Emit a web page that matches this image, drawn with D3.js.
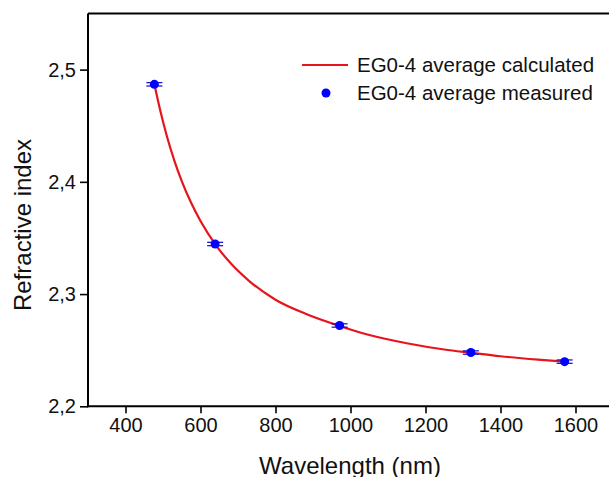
<!DOCTYPE html>
<html><head><meta charset="utf-8">
<script src="https://cdn.jsdelivr.net/npm/d3@7"></script>
<style>body{margin:0;background:#fff;overflow:hidden}svg{display:block;font-family:"Liberation Sans",Arial,sans-serif}</style>
</head><body><svg id="c" width="609" height="477"></svg>
<script>
// measured points
const wavelengths = [477, 639, 971, 1321, 1571];
const measured = [2.4869, 2.3446, 2.2720, 2.2479, 2.2398];
const errors = [0.0015, 0.0015, 0.0015, 0.0015, 0.0015];
// calculated curve
const calcWavelengths = [477, 493, 510, 530, 550, 575, 600, 639, 680, 730, 800, 880, 971, 1050, 1150, 1250, 1321, 1400, 1500, 1571];
const calcValues = [2.4869, 2.4631, 2.4411, 2.4192, 2.4007, 2.3813, 2.3651, 2.3446, 2.3276, 2.3116, 2.2950, 2.2825, 2.2716, 2.2635, 2.2562, 2.2506, 2.2477, 2.2446, 2.2416, 2.2398];
const xTicks = [400, 600, 800, 1000, 1200, 1400, 1600];
const xMinor = [300, 500, 700, 900, 1100, 1300, 1500, 1700];
const yTicks = [2.2, 2.3, 2.4, 2.5];
const yMinor = [2.25, 2.35, 2.45, 2.55];
const legendLabels = ["EG0-4 average calculated", "EG0-4 average measured"];

const svg = d3.select("#c");
const x = d3.scaleLinear().domain([300, 1700]).range([88, 613]);
const y = d3.scaleLinear().domain([2.2, 2.55]).range([406.3, 13.5]);
const loc = d3.formatLocale({decimal: ",", thousands: "", grouping: [3], currency: ["", ""]});
const fy = loc.format(".1f");

// top / right border
svg.append("line").attr("x1", x(300)).attr("x2", x(1700)).attr("y1", y(2.55)).attr("y2", y(2.55))
  .attr("stroke", "#000").attr("stroke-width", 2);
svg.append("line").attr("x1", x(1700)).attr("x2", x(1700)).attr("y1", y(2.55)).attr("y2", y(2.2))
  .attr("stroke", "#000").attr("stroke-width", 2);

// x axis
const gx = svg.append("g").attr("transform", `translate(0,${y(2.2)})`);
gx.call(d3.axisBottom(x).tickValues(xMinor).tickSize(4).tickFormat(""));
gx.call(d3.axisBottom(x).tickValues(xTicks).tickSize(7).tickPadding(5).tickFormat(d3.format("d")));
gx.selectAll(".domain").attr("stroke-width", 2).attr("d", `M${x(300)-1},0H${x(1700)}`);
gx.selectAll("line").attr("stroke-width", 1.6);
gx.selectAll("text").attr("font-size", 20).attr("fill", "#111").attr("font-family", "Liberation Sans, Arial, sans-serif");

// y axis
const gy = svg.append("g").attr("transform", `translate(${x(300)},0)`);
gy.call(d3.axisLeft(y).tickValues(yMinor).tickSize(4).tickFormat(""));
gy.call(d3.axisLeft(y).tickValues(yTicks).tickSize(8).tickPadding(4).tickFormat(fy));
gy.selectAll(".domain").attr("stroke-width", 2).attr("d", `M0,${y(2.55)}V${y(2.2)+1}`);
gy.selectAll("line").attr("stroke-width", 1.6);
gy.selectAll("text").attr("font-size", 20).attr("fill", "#111").attr("font-family", "Liberation Sans, Arial, sans-serif");

// axis titles
svg.append("text").attr("x", 350).attr("y", 474).attr("text-anchor", "middle")
  .attr("font-size", 24).attr("fill", "#111").text("Wavelength (nm)");
svg.append("text").attr("transform", "translate(31,225) rotate(-90)").attr("text-anchor", "middle")
  .attr("font-size", 24).attr("fill", "#111").text("Refractive index");

// curve
const calc = calcWavelengths.map((w, i) => [w, calcValues[i]]);
svg.append("path").datum(calc)
  .attr("d", d3.line().x(d => x(d[0])).y(d => y(d[1])).curve(d3.curveMonotoneX))
  .attr("fill", "none").attr("stroke", "#e8141b").attr("stroke-width", 2.2);

// error bars + points
const pts = wavelengths.map((w, i) => ({w, n: measured[i], e: errors[i]}));
const eb = svg.append("g").attr("stroke", "#1a1acc").attr("stroke-width", 1.3);
pts.forEach(p => {
  eb.append("line").attr("x1", x(p.w)).attr("x2", x(p.w)).attr("y1", y(p.n + p.e)).attr("y2", y(p.n - p.e));
  [p.n + p.e, p.n - p.e].forEach(v => eb.append("line").attr("x1", x(p.w) - 8).attr("x2", x(p.w) + 8).attr("y1", y(v)).attr("y2", y(v)));
});
svg.append("g").selectAll("circle").data(pts).join("circle")
  .attr("cx", d => x(d.w)).attr("cy", d => y(d.n)).attr("r", 4.5).attr("fill", "#0000ff");

// legend
svg.append("line").attr("x1", 302).attr("x2", 348).attr("y1", 65).attr("y2", 65)
  .attr("stroke", "#e8141b").attr("stroke-width", 2.2);
svg.append("circle").attr("cx", 326).attr("cy", 93).attr("r", 4.5).attr("fill", "#0000ff");
svg.append("g").selectAll("text").data(legendLabels).join("text")
  .attr("x", 357).attr("y", (d, i) => 72 + i * 27.5).attr("font-size", 20.5).attr("fill", "#111").text(d => d);
</script></body></html>
